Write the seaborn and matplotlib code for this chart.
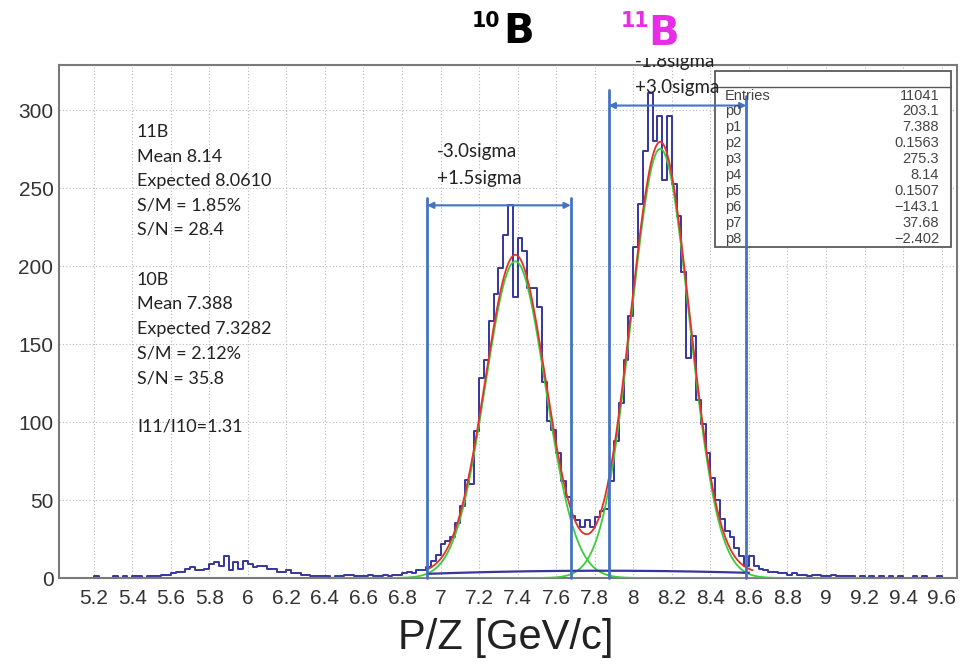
import numpy as np
import pandas as pd
import matplotlib
matplotlib.use("Agg")
import matplotlib.pyplot as plt
import seaborn as sns
from matplotlib.patches import Rectangle
from matplotlib.lines import Line2D
from matplotlib.ticker import MultipleLocator, FuncFormatter

# ---------------- data ----------------
bin_start = 5.0
bin_width = 0.025
counts = [
    # 5.000-5.350
    0, 0, 0, 0, 0, 0, 0, 0, 1, 0, 0, 0, 1, 0,
    # 5.350-5.600
    1, 0, 1, 1, 0, 1, 1, 1, 2, 2,
    # 5.600-5.900
    3, 4, 4, 6, 7, 5, 5, 6, 9, 10, 8, 14,
    # 5.900-6.200
    5, 10, 6, 11, 9, 7, 8, 8, 6, 6, 4, 4,
    # 6.200-6.500
    5, 3, 3, 2, 2, 1, 1, 1, 1, 0, 1, 1,
    # 6.500-6.900
    2, 2, 1, 1, 1, 2, 1, 1, 2, 1, 2, 2, 3, 4, 3, 5,
    # 6.900-7.200
    5, 7, 11, 15, 22, 24, 26, 35, 46, 63, 60, 94,
    # 7.200-7.500
    128, 140, 165, 182, 199, 220, 239, 180, 218, 210, 186, 186,
    # 7.500-7.800
    174, 126, 101, 95, 80, 62, 52, 40, 37, 33, 37, 33,
    # 7.800-8.100
    39, 43, 44, 62, 88, 112, 140, 168, 212, 240, 274, 311,
    # 8.100-8.400
    280, 296, 255, 296, 253, 232, 196, 141, 155, 114, 99, 80,
    # 8.400-8.700
    64, 50, 38, 30, 26, 19, 14, 8, 14, 8, 6, 5,
    # 8.700-9.000
    4, 4, 3, 3, 2, 3, 2, 2, 1, 2, 2, 1,
    # 9.000-9.300
    1, 2, 1, 1, 1, 1, 0, 1, 0, 1, 0, 1,
    # 9.300-9.700
    0, 1, 0, 1, 0, 0, 1, 0, 1, 0, 0, 1, 0, 0, 0, 0,
]

# fit parameters (from the stats box)
p = [203.1, 7.388, 0.1563, 275.3, 8.14, 0.1507, -143.1, 37.68, -2.402]
total_fit_range = (6.93, 8.62)
component_range = (6.45, 9.20)
background_range = (6.93, 8.60)

# sigma windows (vertical lines) and their heights
window_10B = (6.93, 7.676)
window_10B_top = (244, 244)
window_10B_arrow = 239
window_11B = (7.872, 8.587)
window_11B_top = (313, 309)
window_11B_arrow = 303

stat_labels = ["Entries", "p0", "p1", "p2", "p3", "p4", "p5", "p6", "p7", "p8"]
stat_values = ["11041", "203.1", "7.388", "0.1563", "275.3", "8.14", "0.1507",
               "\u2212143.1", "37.68", "\u22122.402"]

block_11B = ["11B", "Mean 8.14", "Expected 8.0610", "S/M = 1.85%", "S/N = 28.4"]
block_10B = ["10B", "Mean 7.388", "Expected 7.3282", "S/M = 2.12%", "S/N = 35.8", "", "I11/I10=1.31"]

x_ticks_major = 0.2
x_ticks_minor = 0.04
y_ticks_major = 50
y_ticks_minor = 10

# ---------------- style ----------------
sns.set_style("white")
plt.rcParams["font.family"] = ["Liberation Sans", "DejaVu Sans"]

W, H = 971, 667
fig = plt.figure(figsize=(W / 100, H / 100), dpi=100)


def P(px, py):
    return px / W, 1 - py / H


ax = fig.add_axes([59 / W, 1 - 578 / H, (957 - 59) / W, (578 - 65) / H])

HIST = "#36369c"
GREEN = "#3ccc3c"
RED = "#e6302c"
BLUE = "#4472c4"

n_bins = len(counts)
centers = bin_start + bin_width * (np.arange(n_bins) + 0.5)
df = pd.DataFrame({"pz": centers, "count": counts})
sns.histplot(data=df, x="pz", weights="count", binwidth=bin_width,
             binrange=(bin_start, bin_start + bin_width * n_bins),
             element="step", fill=False, color=HIST, linewidth=1.4, ax=ax)


def g(x, a, m, s):
    return a * np.exp(-0.5 * ((x - m) / s) ** 2)


def bg(x):
    return p[6] + p[7] * x + p[8] * x ** 2


xc = np.linspace(*component_range, 600)
sns.lineplot(x=xc, y=g(xc, p[0], p[1], p[2]), color=GREEN, linewidth=1.3, ax=ax, zorder=4)
sns.lineplot(x=xc, y=g(xc, p[3], p[4], p[5]), color=GREEN, linewidth=1.3, ax=ax, zorder=4)
xb = np.linspace(*background_range, 300)
sns.lineplot(x=xb, y=bg(xb), color=HIST, linewidth=1.6, ax=ax, zorder=4)
xt = np.linspace(*total_fit_range, 600)
sns.lineplot(x=xt, y=g(xt, p[0], p[1], p[2]) + g(xt, p[3], p[4], p[5]) + bg(xt),
             color=RED, linewidth=1.3, ax=ax, zorder=5)

ax.set_xlim(5.02, 9.68)
ax.set_ylim(0, 329)
ax.set_xlabel("")
ax.set_ylabel("")

ax.xaxis.set_major_locator(MultipleLocator(x_ticks_major))
ax.xaxis.set_minor_locator(MultipleLocator(x_ticks_minor))
ax.yaxis.set_major_locator(MultipleLocator(y_ticks_major))
ax.yaxis.set_minor_locator(MultipleLocator(y_ticks_minor))
ax.xaxis.set_major_formatter(FuncFormatter(lambda v, _: f"{round(v, 1):g}"))
ax.tick_params(axis="x", which="major", direction="in", length=12, width=1.0,
               color="#666666", labelsize=15, labelcolor="#333333", pad=8)
ax.tick_params(axis="x", which="minor", direction="in", length=5, width=0.9, color="#666666")
ax.tick_params(axis="y", which="major", direction="in", length=20, width=1.0,
               color="#666666", labelsize=15, labelcolor="#333333", pad=4)
ax.tick_params(axis="y", which="minor", direction="in", length=10, width=0.9, color="#666666")
ax.grid(True, which="major", linestyle=(0, (1, 2)), color="#b8b8b8", linewidth=0.8)
ax.set_axisbelow(True)
for s in ax.spines.values():
    s.set_color("#7a7a7a")
    s.set_linewidth(1.5)

# sigma windows
for (xl, xr), (tl, tr), ya in [(window_10B, window_10B_top, window_10B_arrow),
                               (window_11B, window_11B_top, window_11B_arrow)]:
    ax.add_line(Line2D([xl, xl], [0, tl], color=BLUE, lw=2.0, zorder=8, clip_on=False))
    ax.add_line(Line2D([xr, xr], [0, tr], color=BLUE, lw=2.0, zorder=8, clip_on=False))
    ax.annotate("", xy=(xr, ya), xytext=(xl, ya),
                arrowprops=dict(arrowstyle="<|-|>", color=BLUE, lw=1.5,
                                mutation_scale=9, shrinkA=0, shrinkB=0),
                zorder=8, annotation_clip=False)

# stats box
bx0, by0 = P(715, 247)
bx1, by1 = P(951, 71)
ax.add_patch(Rectangle((bx0, by0), bx1 - bx0, by1 - by0, transform=fig.transFigure,
                       facecolor="white", edgecolor="#5a5a5a", lw=1.3, zorder=6, clip_on=False))
hx0, hy = P(715, 87)
hx1, _ = P(951, 87)
ax.add_line(Line2D([hx0, hx1], [hy, hy], transform=fig.transFigure, color="#5a5a5a",
                   lw=1.0, zorder=6, clip_on=False))
for k, (lab, val) in enumerate(zip(stat_labels, stat_values)):
    yy = 95.5 + 15.9 * k
    fig.text(*P(725, yy), lab, ha="left", va="center", fontsize=10.5, color="#444444", zorder=7)
    fig.text(*P(939, yy), val, ha="right", va="center", fontsize=10.5, color="#444444", zorder=7)

# annotation texts
TXT = dict(family=["Lato", "DejaVu Sans"], color="#222222", fontsize=13)
for k, line in enumerate(block_11B):
    fig.text(*P(137, 137 + 24.5 * k), line, ha="left", va="baseline", **TXT)
for k, line in enumerate(block_10B):
    fig.text(*P(137, 285 + 24.5 * k), line, ha="left", va="baseline", **TXT)

SIG = dict(family=["Lato", "DejaVu Sans"], color="#222222", fontsize=13.5)
fig.text(*P(437, 157), "-3.0sigma", ha="left", va="baseline", **SIG)
fig.text(*P(437, 184), "+1.5sigma", ha="left", va="baseline", **SIG)
fig.text(*P(635, 67), "-1.8sigma", ha="left", va="baseline", zorder=9, **SIG)
fig.text(*P(635, 93), "+3.0sigma", ha="left", va="baseline", zorder=9, **SIG)
# the upper half of "-1.8sigma" is hidden in the original slide
mx0, my0 = P(628, 58)
mx1, my1 = P(765, 47)
fig.patches.append(Rectangle((mx0, my0), mx1 - mx0, my1 - my0, transform=fig.transFigure,
                             facecolor="white", edgecolor="none", zorder=10))

# titles
TF = dict(family=["DejaVu Sans"], fontweight="bold", ha="left", va="baseline")
fig.text(*P(472, 27), "10", fontsize=14.8, color="black", **TF)
fig.text(*P(503, 43), "B", fontsize=29, color="black", **TF)
MAG = "#e62ee6"
fig.text(*P(621, 27), "11", fontsize=14.8, color=MAG, **TF)
fig.text(*P(648, 45), "B", fontsize=29, color=MAG, **TF)

# x label
fig.text(*P(506, 638), "P/Z [GeV/c]", ha="center", va="center", fontsize=30, color="#222222")

fig.savefig("out.png", dpi=100)
